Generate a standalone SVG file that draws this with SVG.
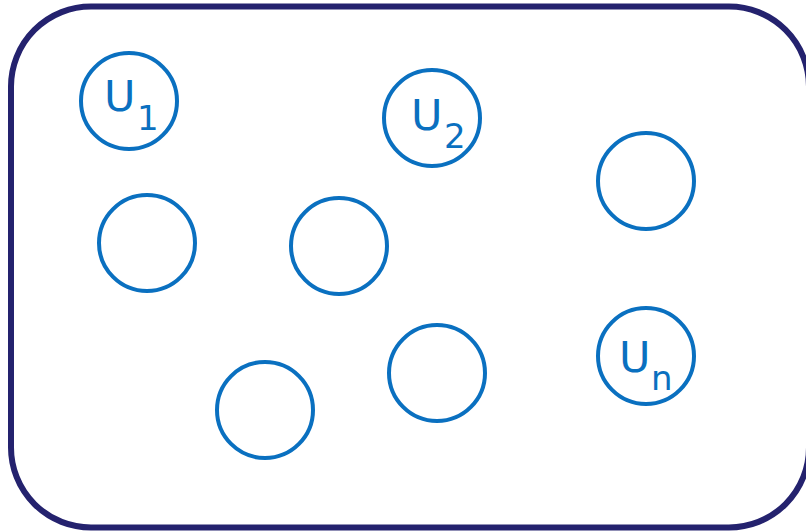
<svg xmlns="http://www.w3.org/2000/svg" width="806" height="532" viewBox="0 0 806 532">
<style>
.frame{fill:#fff;stroke:#24226e;stroke-width:6}
.c{fill:none;stroke:#0a70c0;stroke-width:4}
.t{font-family:"DejaVu Sans",Verdana,sans-serif;fill:#0a70c0;font-size:43px}
.s{font-family:"DejaVu Sans",Verdana,sans-serif;fill:#0a70c0;font-size:34px}
</style>
<rect width="806" height="532" fill="#fff"/>
<g id="universe"><rect class="frame" x="11" y="6.5" width="798" height="521" rx="80" ry="80"/></g>
<g id="u1"><circle class="c" cx="129" cy="101" r="48"/><text class="t" x="104" y="111">U</text><text class="s" x="137" y="130">1</text></g>
<g id="u2"><circle class="c" cx="432" cy="118" r="48"/><text class="t" x="411" y="129.5">U</text><text class="s" x="444" y="148">2</text></g>
<g id="c3"><circle class="c" cx="646" cy="181" r="48"/></g>
<g id="c4"><circle class="c" cx="147" cy="243" r="48"/></g>
<g id="c5"><circle class="c" cx="339" cy="246" r="48"/></g>
<g id="un"><circle class="c" cx="646" cy="356" r="48"/><text class="t" x="619" y="372">U</text><text class="s" x="651" y="390">n</text></g>
<g id="c6"><circle class="c" cx="437" cy="373" r="48"/></g>
<g id="c7"><circle class="c" cx="265" cy="410" r="48"/></g>
<g id="connectors"/>
</svg>
